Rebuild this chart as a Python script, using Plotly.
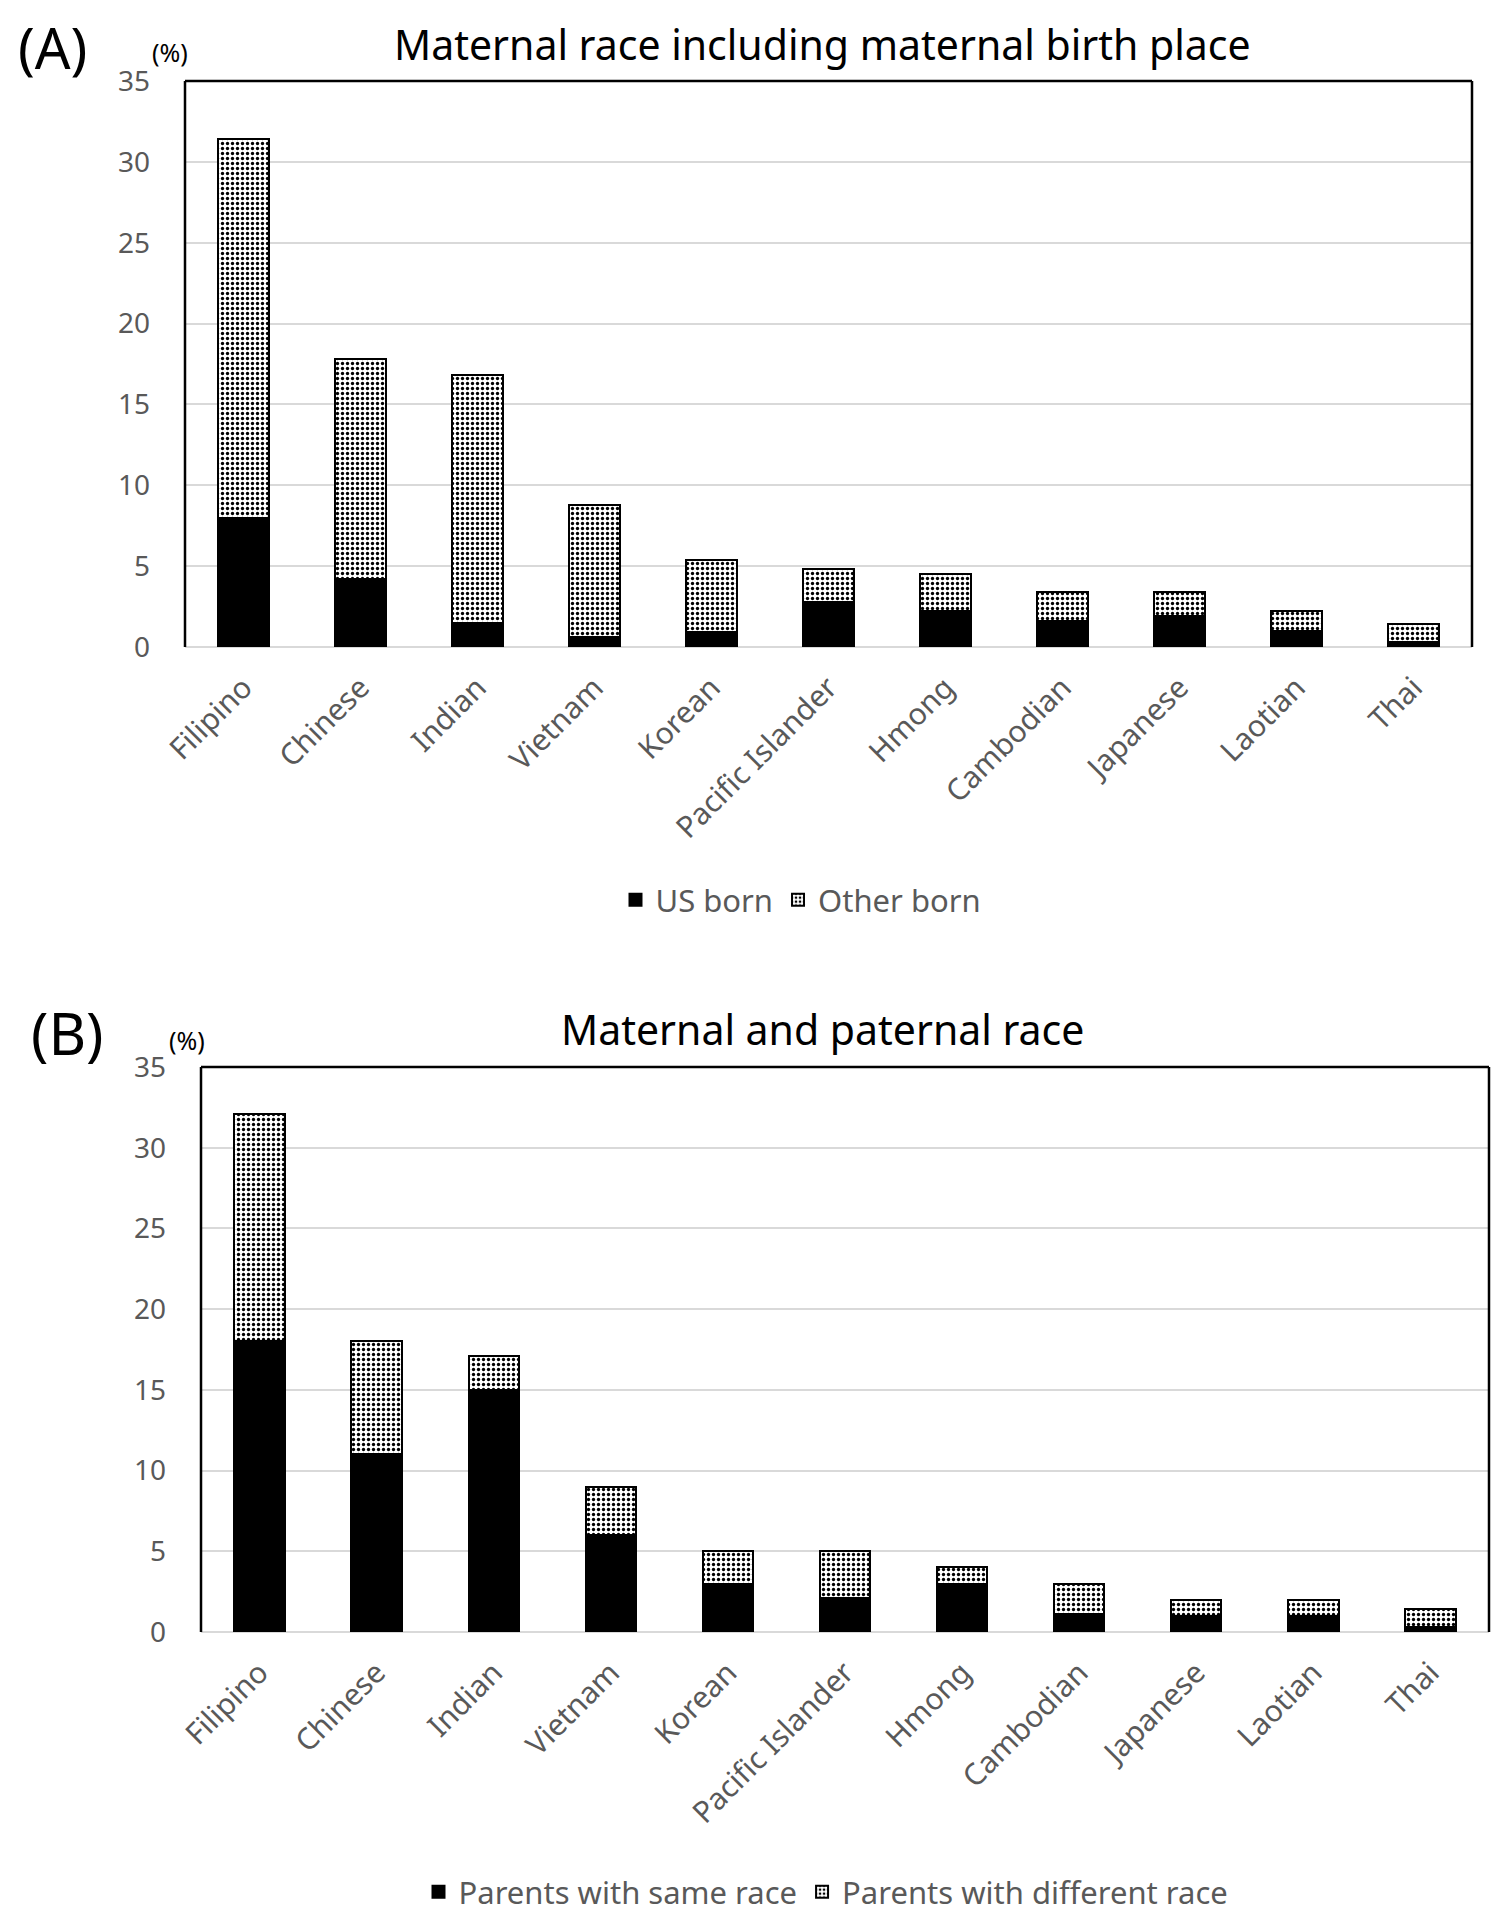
import plotly.graph_objects as go

categories = ["Filipino", "Chinese", "Indian", "Vietnam", "Korean", "Pacific Islander",
              "Hmong", "Cambodian", "Japanese", "Laotian", "Thai"]
# Panel A (%)
us_born = [8.0, 4.2, 1.5, 0.6, 0.9, 2.8, 2.2, 1.6, 1.9, 1.0, 0.3]
other_born = [23.4, 13.6, 15.3, 8.2, 4.5, 2.0, 2.3, 1.8, 1.5, 1.2, 1.1]
# Panel B (%)
same_race = [18.0, 11.0, 15.0, 6.0, 3.0, 2.1, 3.0, 1.1, 1.0, 1.0, 0.3]
diff_race = [14.1, 7.0, 2.1, 3.0, 2.0, 2.9, 1.0, 1.9, 1.0, 1.0, 1.1]
y_ticks = [0, 5, 10, 15, 20, 25, 30, 35]

FONT = "Noto Sans"
GRAY = "#595959"
W, H = 1505, 1920
OFF = 8  # page body margin


def px(p):
    return (p - OFF) / W


def py(p):
    return 1 - (p - OFF) / H


dot_pattern = dict(shape=".", fgcolor="black", bgcolor="white", size=5, solidity=0.35, fillmode="replace")

fig = go.Figure()
fig.add_trace(go.Bar(x=categories, y=us_born, name="US born", xaxis="x", yaxis="y",
                     marker=dict(color="black", line=dict(color="black", width=2)),
                     legend="legend"))
fig.add_trace(go.Bar(x=categories, y=other_born, name="Other born", xaxis="x", yaxis="y",
                     marker=dict(color="white", pattern=dot_pattern, line=dict(color="black", width=2)),
                     legend="legend"))
fig.add_trace(go.Bar(x=categories, y=same_race, name="Parents with same race", xaxis="x2", yaxis="y2",
                     marker=dict(color="black", line=dict(color="black", width=2)),
                     legend="legend2"))
fig.add_trace(go.Bar(x=categories, y=diff_race, name="Parents with different race", xaxis="x2", yaxis="y2",
                     marker=dict(color="white", pattern=dot_pattern, line=dict(color="black", width=2)),
                     legend="legend2"))

xa = dict(tickangle=-45, tickfont=dict(family=FONT, size=30, color=GRAY), showgrid=False,
          showline=False, zeroline=False, ticks="", range=[-0.5, 10.5], automargin=False,
          ticklabelstandoff=16)
ya = dict(range=[0, 35], tickvals=y_ticks, tickfont=dict(family=FONT, size=28, color=GRAY),
          showgrid=True, gridcolor="#d9d9d9", gridwidth=2, zeroline=True, zerolinecolor="#d9d9d9",
          zerolinewidth=2, showline=False, ticks="", ticklabelstandoff=34, automargin=False)

fig.update_layout(
    width=W, height=H, margin=dict(l=0, r=0, t=0, b=0, autoexpand=False),
    paper_bgcolor="white", plot_bgcolor="white",
    barmode="stack", bargap=0.57,
    font=dict(family=FONT, color=GRAY),
    xaxis=dict(**xa, domain=[px(185), px(1472)], anchor="y"),
    yaxis=dict(**ya, domain=[py(647), py(81)], anchor="x"),
    xaxis2=dict(**xa, domain=[px(201), px(1489)], anchor="y2"),
    yaxis2=dict(**ya, domain=[py(1632), py(1067)], anchor="x2"),
    legend=dict(orientation="h", x=px(801), y=py(900), xanchor="center", yanchor="middle",
                font=dict(family=FONT, size=31, color=GRAY), itemwidth=30, traceorder="normal",
                bgcolor="rgba(0,0,0,0)"),
    legend2=dict(orientation="h", x=px(826), y=py(1892), xanchor="center", yanchor="middle",
                 font=dict(family=FONT, size=31, color=GRAY), itemwidth=30, traceorder="normal",
                 bgcolor="rgba(0,0,0,0)"),
)

# frame lines (left, top, right) for each panel
for xr, yr in [("x domain", "y domain"), ("x2 domain", "y2 domain")]:
    for x0, y0, x1, y1 in [(0, 0, 0, 1), (0, 1, 1, 1), (1, 1, 1, 0)]:
        fig.add_shape(type="line", xref=xr, yref=yr, x0=x0, y0=y0, x1=x1, y1=y1,
                      line=dict(color="black", width=2.5), layer="above")

ann = [
    dict(text="(A)", x=px(52), y=py(47), size=56, color="black"),
    dict(text="(%)", x=px(170), y=py(52), size=25, color="black"),
    dict(text="Maternal race including maternal birth place", x=px(822), y=py(44), size=41, color="black"),
    dict(text="(B)", x=px(67), y=py(1032), size=58, color="black"),
    dict(text="(%)", x=px(187), y=py(1040), size=25, color="black"),
    dict(text="Maternal and paternal race", x=px(822), y=py(1029), size=41, color="black"),
]
for a in ann:
    fig.add_annotation(text=a["text"], x=a["x"], y=a["y"], xref="paper", yref="paper",
                       xanchor="center", yanchor="middle", showarrow=False,
                       font=dict(family=FONT, size=a["size"], color=a["color"]))

fig.write_html("out.html")
